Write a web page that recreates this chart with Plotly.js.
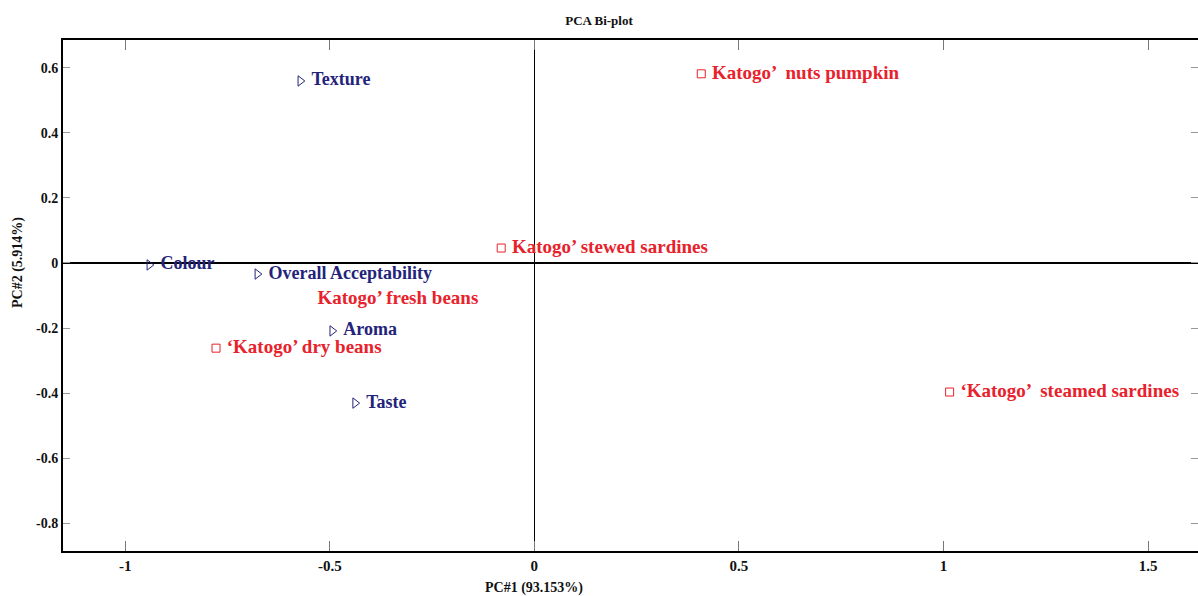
<!DOCTYPE html>
<html>
<head>
<meta charset="utf-8">
<script src="https://cdn.plot.ly/plotly-3.0.1.min.js"></script>
<style>html,body{margin:0;padding:0;background:#fff}#chart{width:1198px;height:596px}</style>
</head>
<body>
<div id="chart"></div>
<script>
// Variables (loadings)
const varNames = ["Texture", "Colour", "Overall Acceptability", "Aroma", "Taste"];
const varPC1 = [-0.572, -0.941, -0.677, -0.494, -0.438];
const varPC2 = [0.560, -0.006, -0.034, -0.209, -0.431];

// Samples (scores)
const sampleNames = ["Katogo’  nuts pumpkin", "Katogo’ stewed sardines", "‘Katogo’ dry beans", "‘Katogo’  steamed sardines"];
const samplePC1 = [0.408, -0.081, -0.778, 1.015];
const samplePC2 = [0.582, 0.046, -0.262, -0.397];

// Sample shown with label only (marker hidden in the original)
const hiddenNames = ["Katogo’ fresh beans"];
const hiddenPC1 = [-0.530];
const hiddenPC2 = [-0.110];

const xTicks = [-1, -0.5, 0, 0.5, 1, 1.5];
const yTicks = [-0.8, -0.6, -0.4, -0.2, 0, 0.2, 0.4, 0.6];

const serif = "Liberation Serif, Times New Roman, serif";
const navy = "#23237a";
const red = "#e8222c";
const NB = "\u00a0";

const traces = [
  {
    x: varPC1, y: varPC2, text: varNames.map(s => "<b>" + NB + s + "</b>"),
    mode: "markers+text", type: "scatter", textposition: "middle right",
    marker: {symbol: "triangle-right-open", size: 9, color: navy, line: {width: 1, color: navy}},
    textfont: {family: serif, size: 18, color: navy}, cliponaxis: false, hoverinfo: "text"
  },
  {
    x: samplePC1, y: samplePC2, text: sampleNames.map(s => "<b>" + NB + s + "</b>"),
    mode: "markers+text", type: "scatter", textposition: "middle right",
    marker: {symbol: "square-open", size: 8, color: red, line: {width: 1, color: red}},
    textfont: {family: serif, size: 19, color: red}, cliponaxis: false, hoverinfo: "text"
  },
  {
    x: hiddenPC1, y: hiddenPC2, text: hiddenNames.map(s => "<b>" + s + "</b>"),
    mode: "text", type: "scatter", textposition: "middle right",
    textfont: {family: serif, size: 19, color: red}, cliponaxis: false, hoverinfo: "text"
  }
];

const layout = {
  width: 1198, height: 596,
  margin: {l: 63, r: 0, t: 40, b: 45},
  paper_bgcolor: "#fff", plot_bgcolor: "#fff",
  showlegend: false,
  title: {text: "<b>PCA Bi-plot</b>", font: {family: serif, size: 13, color: "#111"}, x: 0.5, xanchor: "center", y: 0.965, yanchor: "middle"},
  xaxis: {
    range: [-1.152, 1.622], tickvals: xTicks, ticktext: xTicks.map(v => "<b>" + v + "</b>"),
    ticks: "inside", ticklen: 10, tickcolor: "#777", tickwidth: 1,
    showline: true, linecolor: "#000", linewidth: 2, mirror: "ticks",
    showgrid: false, zeroline: true, zerolinecolor: "#000", zerolinewidth: 1.5,
    tickfont: {family: serif, size: 15, color: "#111"}, fixedrange: true
  },
  yaxis: {
    range: [-0.886, 0.686], tickvals: yTicks, ticktext: yTicks.map(v => "<b>" + v + "</b>"),
    ticks: "inside", ticklen: 7, tickcolor: "#999", tickwidth: 1,
    showline: true, linecolor: "#000", linewidth: 2, mirror: "ticks",
    showgrid: false, zeroline: true, zerolinecolor: "#000", zerolinewidth: 1.5,
    tickfont: {family: serif, size: 14, color: "#111"}, fixedrange: true
  },
  annotations: [
    {text: "<b>PC#1 (93.153%)</b>", xref: "x", yref: "paper", x: 0, y: 0, yshift: -37, showarrow: false,
     font: {family: serif, size: 14, color: "#111"}, xanchor: "center", yanchor: "middle"},
    {text: "<b>PC#2 (5.914%)</b>", xref: "paper", yref: "y", x: 0, y: 0, xshift: -45, showarrow: false, textangle: -90,
     font: {family: serif, size: 14, color: "#111"}, xanchor: "center", yanchor: "middle"}
  ]
};

Plotly.newPlot("chart", traces, layout, {displayModeBar: false, staticPlot: true});
</script>
</body>
</html>
